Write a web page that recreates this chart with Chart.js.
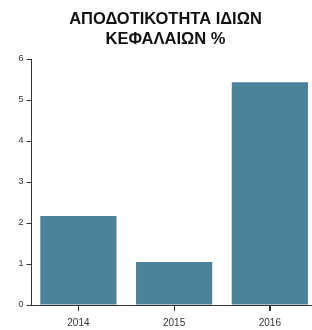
<!DOCTYPE html>
<html>
<head>
<meta charset="utf-8">
<script src="https://cdn.jsdelivr.net/npm/chart.js@4"></script>
<style>
    body { margin: 0; background: #fff; }
    canvas { display: block; }
</style>
</head>
<body>
<canvas id="chart" width="312" height="330"></canvas>
<script>
// values
const years = [2014, 2015, 2016];
const roe = [2.17, 1.05, 5.43];
const yTicks = [0, 1, 2, 3, 4, 5, 6];
const titleLines = ['ΑΠΟΔΟΤΙΚΟΤΗΤΑ ΙΔΙΩΝ', 'ΚΕΦΑΛΑΙΩΝ %'];

const axisColor = '#333';
const labelColor = '#333';
const fontFamily = "'Liberation Sans', Arial, sans-serif";

// the title in the reference is centred a bit right of the canvas centre
const shiftTitle = {
    id: 'shiftTitle',
    afterLayout(chart) {
        if (chart.titleBlock) {
            chart.titleBlock.left = 20;
        }
    }
};

// short tick marks under the x axis, one per year
const xTickMarks = {
    id: 'xTickMarks',
    afterDraw(chart) {
        const x = chart.scales.x;
        const ctx = chart.ctx;
        ctx.save();
        ctx.strokeStyle = axisColor;
        ctx.lineWidth = 1;
        ctx.beginPath();
        years.forEach(v => {
            const px = Math.round(x.getPixelForValue(v)) + 0.5;
            ctx.moveTo(px, x.top);
            ctx.lineTo(px, x.top + 6);
        });
        ctx.stroke();
        ctx.restore();
    }
};

new Chart(document.getElementById('chart'), {
    type: 'bar',
    data: {
        datasets: [{
            data: years.map((y, i) => ({ x: y, y: roe[i] })),
            backgroundColor: 'rgb(74,131,155)',
            borderWidth: 0,
            categoryPercentage: 0.8,
            barPercentage: 0.995
        }]
    },
    options: {
        responsive: false,
        animation: false,
        layout: {
            padding: { left: 0, right: 1, top: 0, bottom: 1 }
        },
        plugins: {
            legend: { display: false },
            tooltip: { enabled: false },
            title: {
                display: true,
                text: titleLines,
                color: '#111',
                font: { family: fontFamily, size: 16.5, weight: 'bold', lineHeight: 1.2 },
                padding: { top: 10, bottom: 9.4 }
            }
        },
        scales: {
            x: {
                type: 'linear',
                min: 2013.51,
                max: 2016.43,
                offset: false,
                afterBuildTicks: (scale) => {
                    scale.ticks = years.map(v => ({ value: v }));
                },
                afterFit: (scale) => { scale.height = 24; },
                border: { color: axisColor, width: 1 },
                grid: { drawOnChartArea: false, offset: false, tickLength: 6, color: axisColor },
                ticks: {
                    padding: 6,
                    color: labelColor,
                    font: { family: fontFamily, size: 10 },
                    maxRotation: 0,
                    callback: (v) => String(v)
                }
            },
            y: {
                min: 0,
                max: 6,
                afterFit: (scale) => { scale.width = 31.5; },
                afterBuildTicks: (scale) => {
                    scale.ticks = yTicks.map(v => ({ value: v }));
                },
                border: { color: axisColor, width: 1 },
                grid: { drawOnChartArea: false, tickLength: 5, tickColor: axisColor, color: axisColor },
                ticks: {
                    padding: 3,
                    color: labelColor,
                    font: { family: fontFamily, size: 9 }
                }
            }
        }
    },
    plugins: [shiftTitle, xTickMarks]
});
</script>
</body>
</html>
